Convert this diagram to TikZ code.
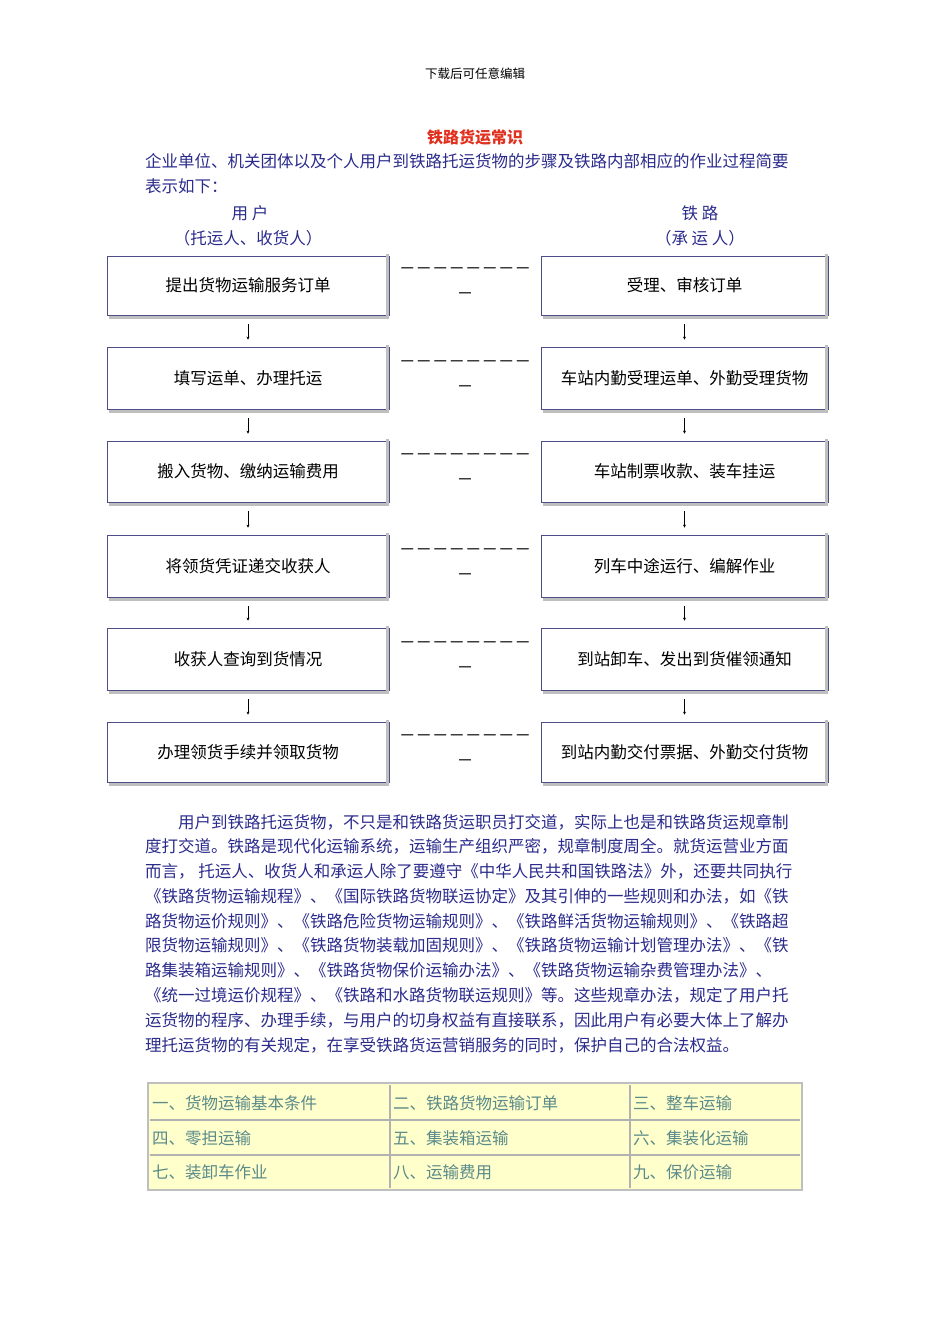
\documentclass[tikz,border=0pt]{standalone}
\usepackage{fontspec}
\usetikzlibrary{arrows.meta}
\newfontfamily\cjk{Noto Sans CJK SC}
\definecolor{txt}{HTML}{2B2B8C}
\definecolor{ttl}{HTML}{E0301E}
\definecolor{tbl}{HTML}{5A8A8A}
\definecolor{yel}{HTML}{FFFFCC}
\begin{document}
\begin{tikzpicture}[x=1pt,y=-1pt,
  every node/.style={font=\cjk\fontsize{16.5}{19}\selectfont},
  para/.style={anchor=west,text=txt,inner sep=0pt},
  box/.style={draw=txt!60!gray,line width=0.8pt,minimum height=58pt,inner sep=0pt,fill=white},
  arr/.style={-{Stealth[length=3pt,width=3pt]},line width=0.5pt},
  cell/.style={anchor=west,text=tbl,inner sep=0pt}]
\useasboundingbox (0,0) rectangle (950,1344);
\node (hdr) at (475,74) {\fontsize{12.5}{14}\selectfont 下载后可任意编辑};
\node[text=ttl] (title) at (475,137) {\fontsize{16}{18}\selectfont\bfseries 铁路货运常识};
\node[para] (p1) at (145,161) {企业单位、机关团体以及个人用户到铁路托运货物的步骤及铁路内部相应的作业过程简要};
\node[para] (p2) at (145,186) {表示如下：};
\node[text=txt] (uh1) at (250,213) {用\ 户};
\node[text=txt] (uh2) at (248,238) {（托运人、收货人）};
\node[text=txt] (rh1) at (700,213) {铁\ 路};
\node[text=txt] (rh2) at (700,238) {（承\ 运\ 人）};
\def\ys{{285.5,378,471.5,566,659,752}}
\foreach \i/\l/\r/\h in {0/提出货物运输服务订单/受理、审核订单/59,1/填写运单、办理托运/车站内勤受理运单、外勤受理货物/62,2/搬入货物、缴纳运输费用/车站制票收款、装车挂运/61,3/将领货凭证递交收获人/列车中途运行、编解作业/62,4/收获人查询到货情况/到站卸车、发出到货催领通知/62,5/办理领货手续并领取货物/到站内勤交付票据、外勤交付货物/60}{
  \pgfmathsetmacro\y{\ys[\i]}
  \node[box,minimum width=282pt,minimum height=\h pt] (L\i) at (248,\y) {\l};
  \node[box,minimum width=287pt,minimum height=\h pt] (R\i) at (684.5,\y) {\r};
  \draw[gray!50,line width=2.5pt] ([xshift=-2pt,yshift=2pt]L\i.north east) -- ([xshift=-2pt,yshift=-2pt]L\i.south east) -- ([xshift=2pt,yshift=-2pt]L\i.south west);
  \draw[gray!50,line width=2.5pt] ([xshift=-2pt,yshift=2pt]R\i.north east) -- ([xshift=-2pt,yshift=-2pt]R\i.south east) -- ([xshift=2pt,yshift=-2pt]R\i.south west);
  \node (d\i) at (465,\y-14) {－－－－－－－－};
  \node (e\i) at (465,\y+11) {－};
}
\foreach \i [evaluate=\i as \j using int(\i+1)] in {0,...,4}{
  \draw[arr] ([yshift=-9pt]L\i.south) -- ([yshift=7pt]L\j.north);
  \draw[arr] ([yshift=-9pt]R\i.south) -- ([yshift=7pt]R\j.north);
}
\node[para] (q1) at (178,822) {用户到铁路托运货物，不只是和铁路货运职员打交道，实际上也是和铁路货运规章制};
\node[para] (q2) at (145,846) {度打交道。铁路是现代化运输系统，运输生产组织严密，规章制度周全。就货运营业方面};
\node[para] (q3) at (145,871) {而言，\ 托运人、收货人和承运人除了要遵守《中华人民共和国铁路法》外，还要共同执行};
\node[para] (q4) at (145,896) {《铁路货物运输规程》、《国际铁路货物联运协定》及其引伸的一些规则和办法，如《铁};
\node[para] (q5) at (145,921) {路货物运价规则》、《铁路危险货物运输规则》、《铁路鲜活货物运输规则》、《铁路超};
\node[para] (q6) at (145,945) {限货物运输规则》、《铁路货物装载加固规则》、《铁路货物运输计划管理办法》、《铁};
\node[para] (q7) at (145,970) {路集装箱运输规则》、《铁路货物保价运输办法》、《铁路货物运输杂费管理办法》、};
\node[para] (q8) at (145,995) {《统一过境运价规程》、《铁路和水路货物联运规则》等。这些规章办法，规定了用户托};
\node[para] (q9) at (145,1020) {运货物的程序、办理手续，与用户的切身权益有直接联系，因此用户有必要大体上了解办};
\node[para] (q10) at (145,1045) {理托运货物的有关规定，在享受铁路货运营销服务的同时，保护自己的合法权益。};
\draw[gray!50,line width=1.5pt,fill=yel] (148,1083) rectangle (802,1190);
\foreach \y in {1120,1155}{\draw[gray!60,line width=2.5pt] (150,\y) -- (800,\y);}
\foreach \x in {390,630}{\draw[gray!60,line width=2.5pt] (\x,1085) -- (\x,1188);}
\foreach \t/\x/\y in {一、货物运输基本条件/152/1103,二、铁路货物运输订单/393/1103,三、整车运输/633/1103,四、零担运输/152/1138,五、集装箱运输/393/1138,六、集装化运输/633/1138,七、装卸车作业/152/1172,八、运输费用/393/1172,九、保价运输/633/1172}{
  \node[cell] at (\x,\y) {\t};
}
\end{tikzpicture}
\end{document}
